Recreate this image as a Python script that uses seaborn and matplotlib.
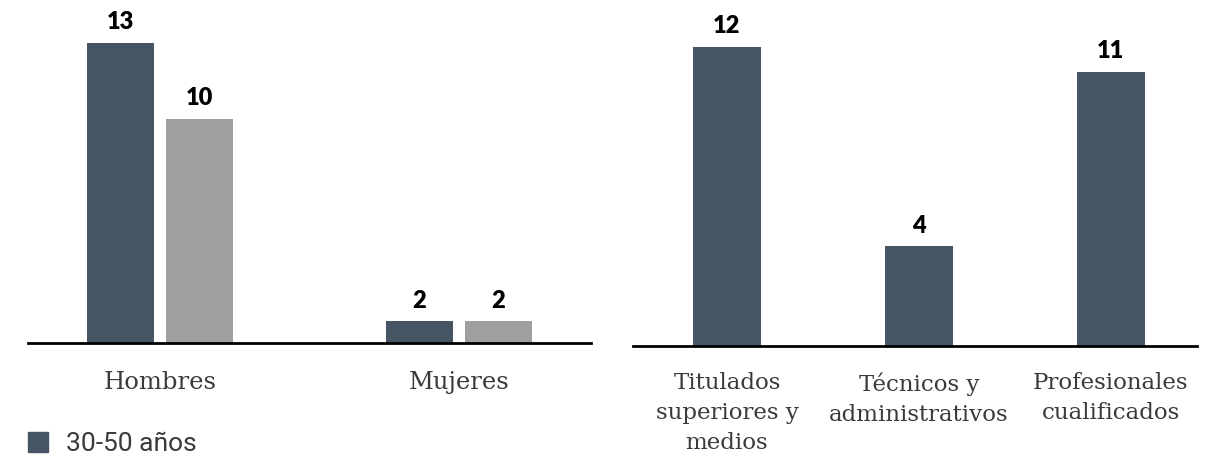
import matplotlib
matplotlib.use("Agg")
import matplotlib.pyplot as plt
import matplotlib.patches as mpatches
import seaborn as sns
import pandas as pd

# =========================================================
# DATA
# =========================================================
genders = ["Hombres", "Mujeres"]
age_groups = ["30-50 años", ">50 años"]
values_30_50 = [13, 2]
values_50 = [10, 2]

categories = [
    "Titulados\nsuperiores y\nmedios",
    "Técnicos y\nadministrativos",
    "Profesionales\ncualificados",
]
category_values = [12, 4, 11]

# =========================================================
# STYLE
# =========================================================
DARK = "#455563"
GRAY = "#9e9fa1"
TEXT = "#3a3a3a"

sns.set_theme(style="white")
plt.rcParams["font.family"] = ["DejaVu Serif"]

df_gender = pd.DataFrame({
    "genero": genders * 2,
    "edad": [age_groups[0]] * 2 + [age_groups[1]] * 2,
    "valor": values_30_50 + values_50,
})

df_cat = pd.DataFrame({
    "categoria": categories,
    "valor": category_values,
})

fig = plt.figure(figsize=(12.11, 4.59), dpi=100)

ax1 = fig.add_axes([0.0231, 0.2527, 0.4649, 0.7037])
ax2 = fig.add_axes([0.5227, 0.2462, 0.4657, 0.7102])

# =========================================================
# LEFT CHART
# =========================================================
sns.barplot(
    data=df_gender,
    x="genero",
    y="valor",
    hue="edad",
    hue_order=age_groups,
    palette=[DARK, GRAY],
    width=0.528,
    gap=0.15,
    linewidth=0,
    saturation=1,
    legend=False,
    ax=ax1,
)

ax1.set_xlim(-0.441, 1.441)
ax1.set_ylim(1.14, 13.91)

for container in ax1.containers:
    ax1.bar_label(
        container,
        fmt="%d",
        padding=7,
        fontsize=17,
        fontweight="heavy",
        family="Lato",
        color="black",
    )

# =========================================================
# RIGHT CHART
# =========================================================
sns.barplot(
    data=df_cat,
    x="categoria",
    y="valor",
    color=DARK,
    width=0.354,
    linewidth=0,
    saturation=1,
    ax=ax2,
)

ax2.set_xlim(-0.49, 2.45)
ax2.set_ylim(0, 13.07)

for container in ax2.containers:
    ax2.bar_label(
        container,
        fmt="%d",
        padding=7,
        fontsize=17,
        fontweight="heavy",
        family="Lato",
        color="black",
    )

# =========================================================
# AXES CLEANUP
# =========================================================
for ax in (ax1, ax2):
    ax.set_xlabel("")
    ax.set_ylabel("")
    ax.set_yticks([])
    for side in ("left", "right", "top"):
        ax.spines[side].set_visible(False)
    ax.spines["bottom"].set_color("black")
    ax.spines["bottom"].set_linewidth(2)
    ax.tick_params(axis="x", length=0, labelsize=16.5, labelcolor=TEXT)

ax1.tick_params(axis="x", pad=20, labelsize=17.5)
ax2.tick_params(axis="x", pad=19)

for lbl in ax2.get_xticklabels():
    lbl.set_linespacing(1.47)

# =========================================================
# LEGEND
# =========================================================
handle = mpatches.Patch(color=DARK, label=age_groups[0])

fig.legend(
    handles=[handle],
    loc="lower left",
    bbox_to_anchor=(28 / 1211, 3 / 459),
    frameon=False,
    borderpad=0,
    borderaxespad=0,
    prop={"family": "Roboto", "size": 19},
    handlelength=0.76,
    handleheight=0.76,
    handletextpad=0.68,
    labelcolor=TEXT,
)

plt.savefig("out.png", dpi=100)
